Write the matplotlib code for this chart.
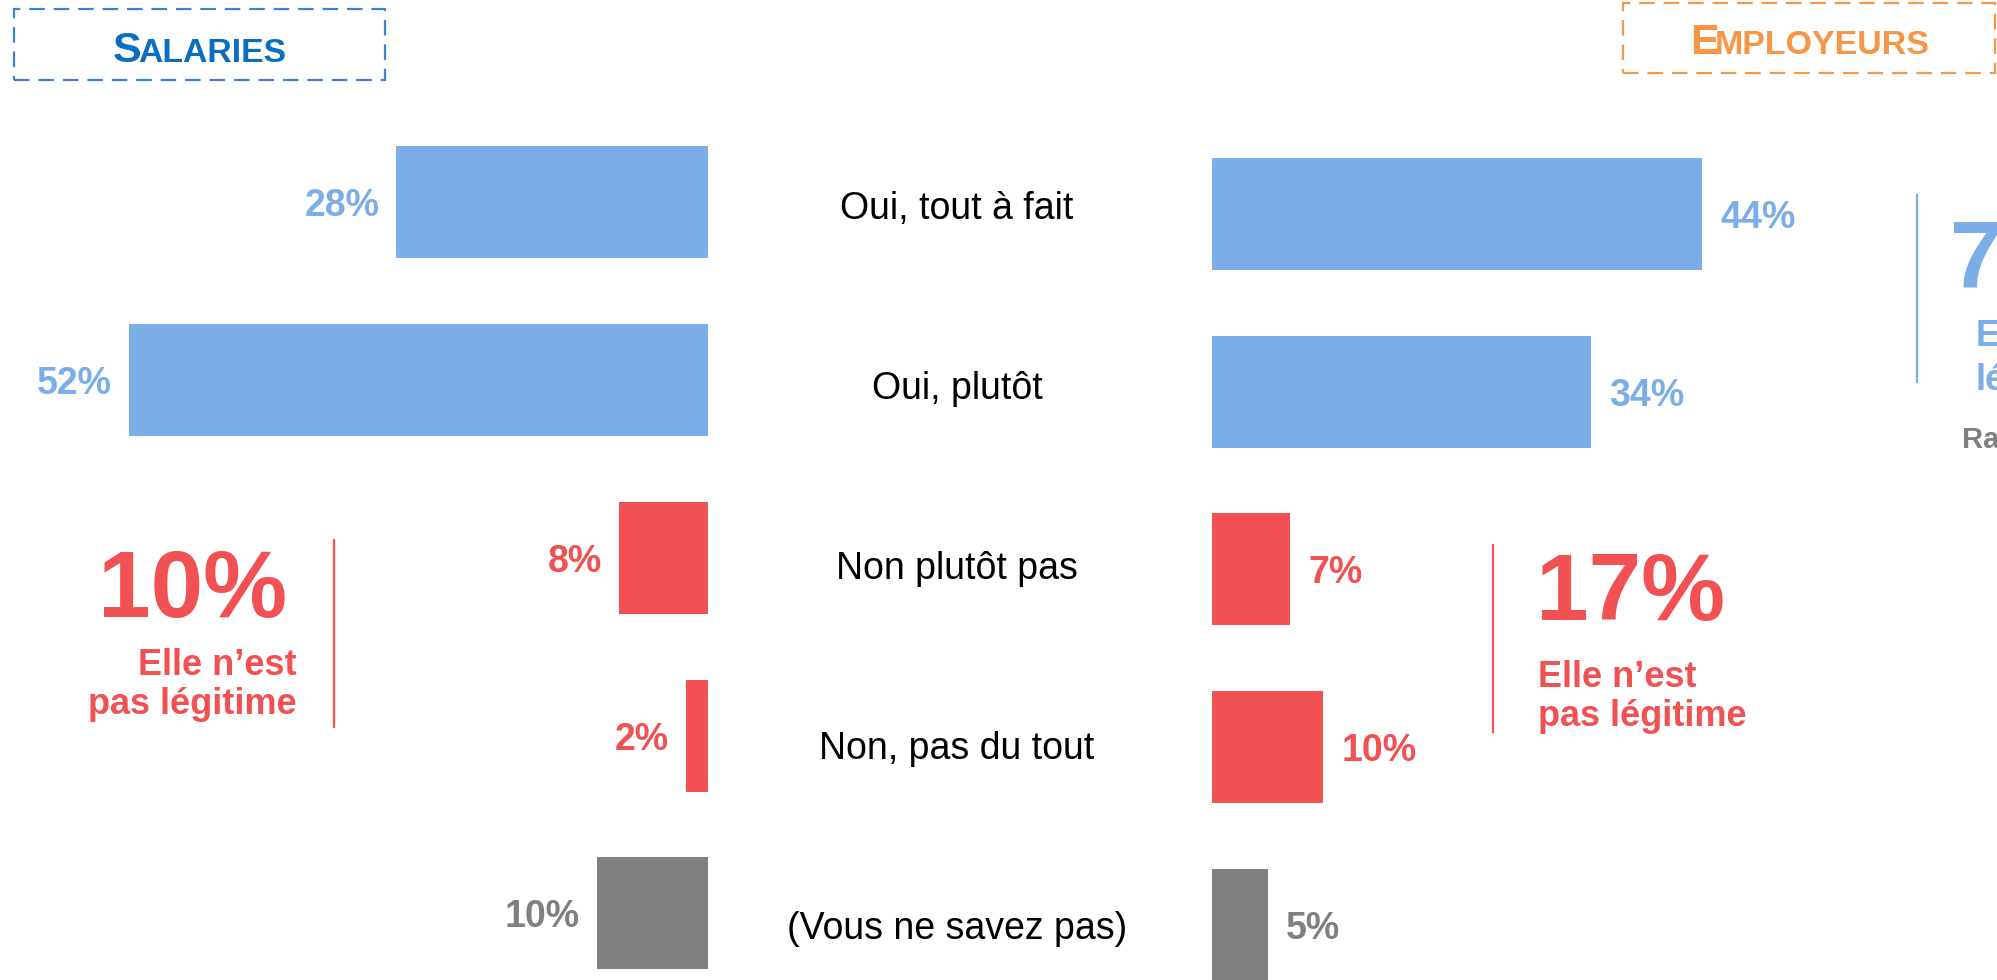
import matplotlib
matplotlib.use('Agg')
import matplotlib.pyplot as plt
from matplotlib.patches import Rectangle
from matplotlib.lines import Line2D

# ---- data ----
categories = ["Oui, tout à fait", "Oui, plutôt", "Non plutôt pas",
              "Non, pas du tout", "(Vous ne savez pas)"]
salaries = [28, 52, 8, 2, 10]
employeurs = [44, 34, 7, 10, 5]
bar_colors = ["#7BADE6", "#7BADE6", "#F15153", "#F15153", "#808080"]
salaries_not_legit = "10%"
employeurs_not_legit = "17%"
employeurs_legit = "78%"
not_legit_text = ["Elle n’est", "pas légitime"]
legit_text = ["Elle est", "légitime"]
rappel_text = "Rappel"

BLUE = "#7BADE6"
RED = "#F15153"
GRAY = "#808080"

plt.rcParams['font.family'] = ['Liberation Sans', 'DejaVu Sans']

W, H = 1997, 980
fig = plt.figure(figsize=(W / 100, H / 100), dpi=100)


def fx(x):
    return x / W


def fy(y):
    return 1 - y / H


PX_PER_PCT = 11.14
STEP = 177.7
XMAX = 60

# ---- left panel (salariés) ----
l_right = 708
l_left = l_right - XMAX * PX_PER_PCT
l_top = 202.5 - STEP / 2
axL = fig.add_axes([fx(l_left), fy(l_top + 5 * STEP), (l_right - l_left) / W, 5 * STEP / H])
axL.barh(range(len(salaries)), salaries, height=112 / STEP, color=bar_colors)
axL.set_xlim(XMAX, 0)
axL.set_ylim(len(salaries) - 0.5, -0.5)
axL.axis('off')
for i, v in enumerate(salaries):
    axL.annotate(f"{v}%", (v, i), xytext=(-12, 0), textcoords='offset points',
                 ha='right', va='center_baseline', fontsize=27, fontweight='bold',
                 color=bar_colors[i])

# ---- right panel (employeurs) ----
r_left = 1212
r_top = 214 - STEP / 2
axR = fig.add_axes([fx(r_left), fy(r_top + 5 * STEP), XMAX * PX_PER_PCT / W, 5 * STEP / H])
axR.barh(range(len(employeurs)), employeurs, height=112 / STEP, color=bar_colors)
axR.set_xlim(0, XMAX)
axR.set_ylim(len(employeurs) - 0.5, -0.5)
axR.axis('off')
for i, v in enumerate(employeurs):
    axR.annotate(f"{v}%", (v, i), xytext=(13, 0), textcoords='offset points',
                 ha='left', va='center_baseline', fontsize=27, fontweight='bold',
                 color=bar_colors[i])

# ---- category labels ----
c_step = 180.0
c_top = 205 - c_step / 2
axC = fig.add_axes([fx(757), fy(c_top + 5 * c_step), 400 / W, 5 * c_step / H])
axC.set_xlim(0, 1)
axC.set_ylim(len(categories) - 0.5, -0.5)
axC.axis('off')
for i, c in enumerate(categories):
    axC.text(0.5, i, c, ha='center', va='center_baseline', fontsize=27, color='black')

# ---- header boxes ----
fig.add_artist(Rectangle((fx(14), fy(80)), 371 / W, 71 / H, transform=fig.transFigure,
                         fill=False, edgecolor="#3C80D8", lw=1.6, linestyle=(0, (7, 4))))
fig.text(fx(113), fy(62), "S", ha='left', va='baseline', fontsize=31,
         fontweight='bold', color="#0A6EC0")
fig.text(fx(138), fy(62), "ALARIES", ha='left', va='baseline', fontsize=24.3,
         fontweight='bold', color="#0A6EC0")

fig.add_artist(Rectangle((fx(1623), fy(73)), 372 / W, 70 / H, transform=fig.transFigure,
                         fill=False, edgecolor="#F79646", lw=1.6, linestyle=(0, (7, 4))))
fig.text(fx(1690), fy(54), "E", ha='left', va='baseline', fontsize=31,
         fontweight='bold', color="#F79646")
fig.text(fx(1715), fy(54), "MPLOYEURS", ha='left', va='baseline', fontsize=24.5,
         fontweight='bold', color="#F79646")

# ---- left summary ----
fig.add_artist(Line2D([fx(334), fx(334)], [fy(540), fy(727)], transform=fig.transFigure,
                      color=RED, lw=1.6))
fig.text(fx(287), fy(617), salaries_not_legit, ha='right', va='baseline', fontsize=68,
         fontweight='bold', color=RED)
fig.text(fx(297), fy(675), not_legit_text[0], ha='right', va='baseline', fontsize=26,
         fontweight='bold', color=RED)
fig.text(fx(297), fy(714), not_legit_text[1], ha='right', va='baseline', fontsize=26,
         fontweight='bold', color=RED)

# ---- right summary (not legit) ----
fig.add_artist(Line2D([fx(1493), fx(1493)], [fy(545), fy(732)], transform=fig.transFigure,
                      color=RED, lw=1.6))
fig.text(fx(1536), fy(620), employeurs_not_legit, ha='left', va='baseline', fontsize=68,
         fontweight='bold', color=RED)
fig.text(fx(1538), fy(687), not_legit_text[0], ha='left', va='baseline', fontsize=26,
         fontweight='bold', color=RED)
fig.text(fx(1538), fy(726), not_legit_text[1], ha='left', va='baseline', fontsize=26,
         fontweight='bold', color=RED)

# ---- right summary (legit, clipped at edge) ----
fig.add_artist(Line2D([fx(1917), fx(1917)], [fy(195), fy(382)], transform=fig.transFigure,
                      color=BLUE, lw=1.6))
fig.text(fx(1950), fy(288), employeurs_legit, ha='left', va='baseline', fontsize=68,
         fontweight='bold', color=BLUE)
fig.text(fx(1976), fy(346), legit_text[0], ha='left', va='baseline', fontsize=26,
         fontweight='bold', color=BLUE)
fig.text(fx(1975), fy(390), legit_text[1], ha='left', va='baseline', fontsize=26,
         fontweight='bold', color=BLUE)
fig.text(fx(1962), fy(448), rappel_text, ha='left', va='baseline', fontsize=21,
         fontweight='bold', color=GRAY)

fig.savefig("out.png", dpi=100)
